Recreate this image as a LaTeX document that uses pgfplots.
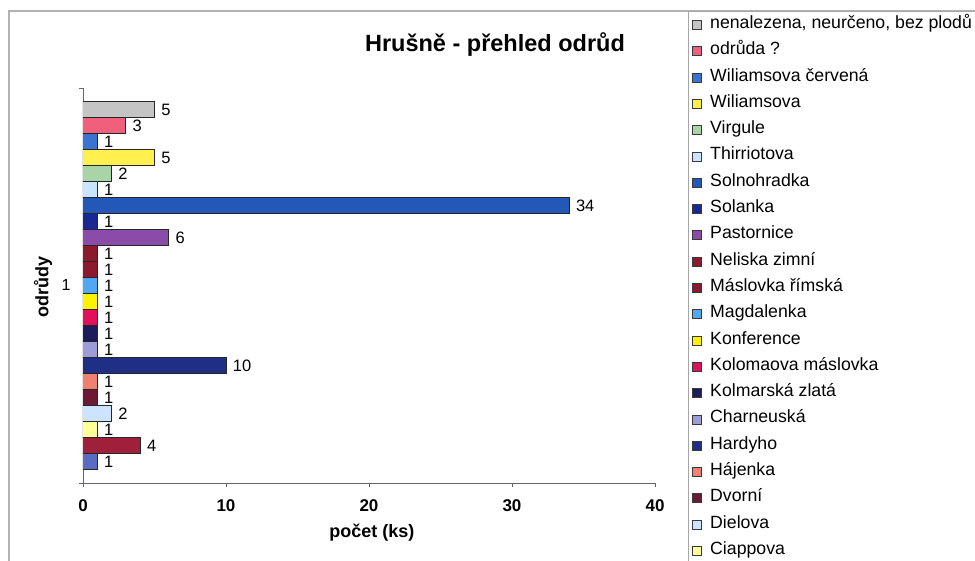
\documentclass[border=0pt]{standalone}
\usepackage{fontspec}
\setmainfont{Liberation Sans}
\usepackage{pgfplots}
\pgfplotsset{compat=1.18}
\definecolor{c1}{HTML}{5A6CC0}
\definecolor{c2}{HTML}{A0203C}
\definecolor{c3}{HTML}{FFFF99}
\definecolor{c4}{HTML}{CCE4FF}
\definecolor{c5}{HTML}{6A1A35}
\definecolor{c6}{HTML}{F08070}
\definecolor{c7}{HTML}{1F2F85}
\definecolor{c8}{HTML}{9C9CD8}
\definecolor{c9}{HTML}{1C1C5C}
\definecolor{c10}{HTML}{E0105A}
\definecolor{c11}{HTML}{FFF200}
\definecolor{c12}{HTML}{4FA8F0}
\definecolor{c13}{HTML}{8C1A2E}
\definecolor{c14}{HTML}{8C1A2E}
\definecolor{c15}{HTML}{8A4CA8}
\definecolor{c16}{HTML}{1A2694}
\definecolor{c17}{HTML}{2358B8}
\definecolor{c18}{HTML}{C8E4FF}
\definecolor{c19}{HTML}{A8D4A8}
\definecolor{c20}{HTML}{FFF050}
\definecolor{c21}{HTML}{3A74D0}
\definecolor{c22}{HTML}{F0607C}
\definecolor{c23}{HTML}{C4C4C4}
\begin{document}
\begin{tikzpicture}
\useasboundingbox (0pt,0pt) rectangle (975pt,561pt);
\fill[white] (0pt,0pt) rectangle (975pt,561pt);
\draw[gray!60, line width=1.2pt] (9pt,-5pt) -- (9pt,550pt) -- (980pt,550pt);
\node[font=\bfseries\fontsize{23.5}{23.5}\selectfont] at (495pt,516pt) {Hrušně - přehled odrůd};
\begin{axis}[
  at={(83pt,78pt)}, anchor=south west,
  width=572pt, height=395pt, scale only axis,
  xmin=0, xmax=40, ymin=0, ymax=2,
  xbar, bar width=16pt,
  axis lines*=left,
  axis line style={draw=gray!80!black, line width=0.8pt},
  /pgf/number format/assume math mode=true,
  xtick={0,10,20,30,40},
  ytick={0,2}, yticklabels={},
  extra y ticks={1}, extra y tick labels={1},
  extra y tick style={major tick length=0pt, yticklabel style={font=\fontsize{16}{16}\selectfont, anchor=center, xshift=-17pt}},
  tick align=outside, major tick length=4pt,
  tick style={draw=gray!80!black, line width=0.8pt},
  xticklabel style={font=\bfseries\fontsize{17}{17}\selectfont, anchor=center, yshift=-19pt},
  xlabel={počet (ks)},
  xlabel style={font=\bfseries\fontsize{18}{18}\selectfont, at={(axis description cs:0.505,-0.1266)}, anchor=center},
  ylabel={odrůdy},
  ylabel style={font=\bfseries\fontsize{18}{18}\selectfont, at={(axis description cs:-0.07,0.496)}, anchor=center},
  every axis plot/.append style={draw=black!85, line width=1pt},
  nodes near coords,
  nodes near coords style={font=\fontsize{16.5}{16.5}\selectfont, text=black, anchor=west, xshift=3pt},
  reverse legend,
  legend cell align=left,
  legend image code/.code={\draw[#1, draw=gray!45!black, line width=0.8pt] (0pt,-4.5pt) rectangle (9pt,4.5pt);},
  legend style={at={(1.0577,1.1949)}, anchor=north west, draw=gray!70, line width=0.8pt,
    inner xsep=4pt, inner ysep=7pt, font=\fontsize{17.7}{17.7}\selectfont, row sep=13.3pt,
    nodes={inner ysep=0pt, inner xsep=8pt, text height=10pt, text depth=3pt, anchor=west}},
]
\addplot[fill=c1,  bar shift=-176pt] coordinates {(1,1)};  \addlegendentry{}
\addplot[fill=c2,  bar shift=-160pt] coordinates {(4,1)};  \addlegendentry{}
\addplot[fill=c3,  bar shift=-144pt] coordinates {(1,1)};  \addlegendentry{Ciappova}
\addplot[fill=c4,  bar shift=-128pt] coordinates {(2,1)};  \addlegendentry{Dielova}
\addplot[fill=c5,  bar shift=-112pt] coordinates {(1,1)};  \addlegendentry{Dvorní}
\addplot[fill=c6,  bar shift=-96pt]  coordinates {(1,1)};  \addlegendentry{Hájenka}
\addplot[fill=c7,  bar shift=-80pt]  coordinates {(10,1)}; \addlegendentry{Hardyho}
\addplot[fill=c8,  bar shift=-64pt]  coordinates {(1,1)};  \addlegendentry{Charneuská}
\addplot[fill=c9,  bar shift=-48pt]  coordinates {(1,1)};  \addlegendentry{Kolmarská zlatá}
\addplot[fill=c10, bar shift=-32pt]  coordinates {(1,1)};  \addlegendentry{Kolomaova máslovka}
\addplot[fill=c11, bar shift=-16pt]  coordinates {(1,1)};  \addlegendentry{Konference}
\addplot[fill=c12, bar shift=0pt]    coordinates {(1,1)};  \addlegendentry{Magdalenka}
\addplot[fill=c13, bar shift=16pt]   coordinates {(1,1)};  \addlegendentry{Máslovka římská}
\addplot[fill=c14, bar shift=32pt]   coordinates {(1,1)};  \addlegendentry{Neliska zimní}
\addplot[fill=c15, bar shift=48pt]   coordinates {(6,1)};  \addlegendentry{Pastornice}
\addplot[fill=c16, bar shift=64pt]   coordinates {(1,1)};  \addlegendentry{Solanka}
\addplot[fill=c17, bar shift=80pt]   coordinates {(34,1)}; \addlegendentry{Solnohradka}
\addplot[fill=c18, bar shift=96pt]   coordinates {(1,1)};  \addlegendentry{Thirriotova}
\addplot[fill=c19, bar shift=112pt]  coordinates {(2,1)};  \addlegendentry{Virgule}
\addplot[fill=c20, bar shift=128pt]  coordinates {(5,1)};  \addlegendentry{Wiliamsova}
\addplot[fill=c21, bar shift=144pt]  coordinates {(1,1)};  \addlegendentry{Wiliamsova červená}
\addplot[fill=c22, bar shift=160pt]  coordinates {(3,1)};  \addlegendentry{odrůda ?}
\addplot[fill=c23, bar shift=176pt]  coordinates {(5,1)};  \addlegendentry{nenalezena, neurčeno, bez plodů}
\end{axis}
\end{tikzpicture}
\end{document}
